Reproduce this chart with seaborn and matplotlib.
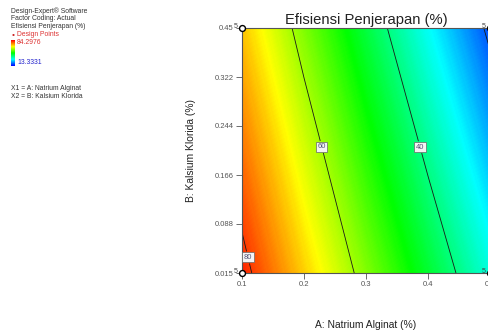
import numpy as np
import pandas as pd
import matplotlib
matplotlib.use('Agg')
import matplotlib.pyplot as plt
from matplotlib.colors import LinearSegmentedColormap
import seaborn as sns

# factor levels (actual units)
natrium_alginat = [0.1, 0.2, 0.3, 0.4, 0.5]
kalsium_klorida = [0.015, 0.45]

# efisiensi penjerapan (%)
eff_low_cacl2 = [81.9, 69.8, 57.7, 45.5, 33.3]    # B = 0.015
eff_high_cacl2 = [70.5, 57.5, 44.4, 31.6, 18.7]   # B = 0.45

contour_levels = [20, 40, 60, 80]
label_pos = [(0.111, 0.043), (0.229, 0.239), (0.389, 0.239)]

# design points (corners, 5 replicates each)
dp_a = [0.1, 0.1, 0.5, 0.5]
dp_b = [0.015, 0.45, 0.015, 0.45]
dp_n = [5, 5, 5, 5]

x_ticks = [0.1, 0.2, 0.3, 0.4, 0.5]
x_ticklabels = ['0.1', '0.2', '0.3', '0.4', '0.5']
y_ticklabels = ['0.015', '0.088', '0.166', '0.244', '0.322', '0.45']

resp_max = 84.2976
resp_min = 13.3331

sns.set_theme(style='white')
plt.rcParams['font.family'] = ['Liberation Sans', 'DejaVu Sans']

de_cmap = LinearSegmentedColormap.from_list(
    'de', ['#0000ff', '#00ffff', '#00ff00', '#ffff00', '#ff0000'])

fig = plt.figure(figsize=(4.88, 3.31), dpi=100)
ax = fig.add_axes([242 / 488, 1 - 273 / 331, 248 / 488, 245 / 331])

Z = np.array([eff_low_cacl2, eff_high_cacl2])
ax.contourf(natrium_alginat, kalsium_klorida, Z,
            levels=np.linspace(resp_min, resp_max, 300), cmap=de_cmap,
            vmin=resp_min, vmax=resp_max, antialiased=False)
cs = ax.contour(natrium_alginat, kalsium_klorida, Z, levels=contour_levels,
                colors='#1a1a1a', linewidths=0.6)
labels = ax.clabel(cs, manual=label_pos, fmt='%d',
                   fontsize=5.5, inline=True, inline_spacing=2, colors='#555577')
for t in labels:
    t.set_rotation(0)
    t.set_bbox(dict(boxstyle='square,pad=0.2', fc='#f4f4f4', ec='#666666', lw=0.5))

# design points
dp = pd.DataFrame({'A': dp_a, 'B': dp_b, 'n': dp_n})
sns.scatterplot(data=dp, x='A', y='B', ax=ax, marker='o', s=18,
                facecolor='white', edgecolor='black', linewidth=1.0,
                clip_on=False, zorder=6, legend=False)
for _, r in dp.iterrows():
    ax.annotate(str(int(r['n'])), (r['A'], r['B']), xytext=(-3.2, 1.0),
                textcoords='offset points', ha='right', va='center',
                fontsize=5, color='#444444', annotation_clip=False)

ax.set_xlim(0.1, 0.5)
ax.set_ylim(0.015, 0.45)
ax.set_xticks(x_ticks)
ax.set_xticklabels(x_ticklabels)
ax.set_yticks(np.linspace(0.015, 0.45, len(y_ticklabels)))
ax.set_yticklabels(y_ticklabels)
ax.tick_params(axis='both', which='major', length=4, width=0.6, color='#555555',
               labelsize=5.5, labelcolor='#555555', pad=2, direction='out',
               bottom=True, left=True)
for s in ax.spines.values():
    s.set_color('#555555')
    s.set_linewidth(0.8)

ax.set_title('Efisiensi Penjerapan (%)', fontsize=10.6, color='#222222', pad=3)
ax.set_xlabel('A: Natrium Alginat (%)', fontsize=7.4, color='#222222')
ax.xaxis.set_label_coords(0.5, -0.19)
ax.set_ylabel('B: Kalsium Klorida (%)', fontsize=7.4, color='#222222')
ax.yaxis.set_label_coords(-0.185, 0.5)

# left-hand info block
info_col = '#333333'
fs = 4.9
fig.text(11 / 488, 1 - 11 / 331, 'Design-Expert® Software', fontsize=fs, color=info_col, va='center')
fig.text(11 / 488, 1 - 19 / 331, 'Factor Coding: Actual', fontsize=fs, color=info_col, va='center')
fig.text(11 / 488, 1 - 27 / 331, 'Efisiensi Penjerapan (%)', fontsize=fs, color=info_col, va='center')
fig.text(13 / 488, 1 - 35 / 331, '•', fontsize=fs + 1, color='#cc2222', va='center', ha='center')
fig.text(17 / 488, 1 - 35 / 331, 'Design Points', fontsize=fs, color='#dd3333', va='center')
fig.text(17 / 488, 1 - 43 / 331, '%.4f' % resp_max, fontsize=fs, color='#dd3333', va='center')
fig.text(17 / 488, 1 - 62 / 331, '%.4f' % resp_min, fontsize=fs, color='#2222cc', va='center')
fig.text(11 / 488, 1 - 88 / 331, 'X1 = A: Natrium Alginat', fontsize=fs, color=info_col, va='center')
fig.text(11 / 488, 1 - 96 / 331, 'X2 = B: Kalsium Klorida', fontsize=fs, color=info_col, va='center')

cax = fig.add_axes([11 / 488, 1 - 66 / 331, 4 / 488, 26 / 331])
cax.imshow(np.linspace(1, 0, 100).reshape(-1, 1), cmap=de_cmap, aspect='auto')
cax.set_axis_off()

fig.savefig('out.png', dpi=100)
